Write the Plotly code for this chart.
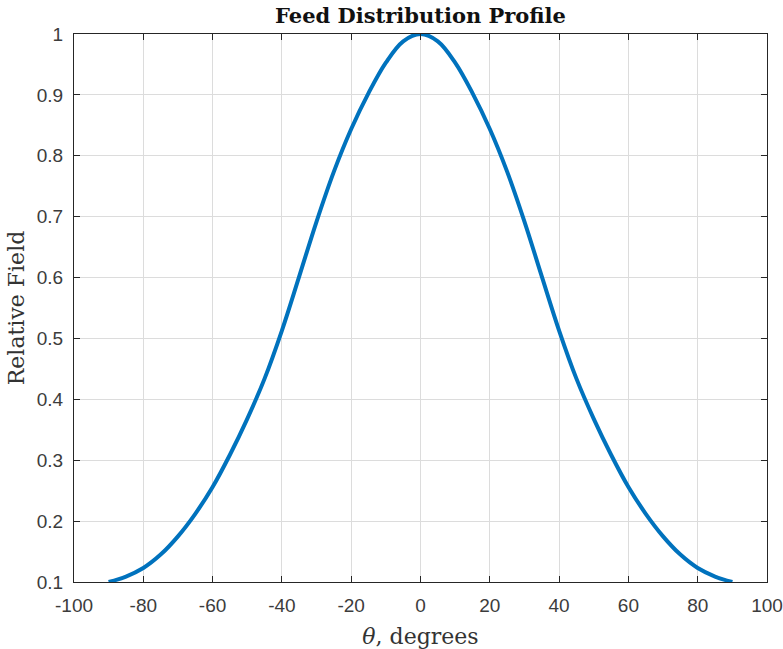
import plotly.graph_objects as go

# Feed pattern samples (angle in degrees, relative field amplitude)
theta_deg = [-90, -85, -80, -75, -70, -65, -60, -55, -50, -45, -40, -35, -30, -25, -20, -15, -10, -5,
             0, 5, 10, 15, 20, 25, 30, 35, 40, 45, 50, 55, 60, 65, 70, 75, 80, 85, 90]
relative_field = [0.100, 0.109, 0.123, 0.145, 0.175, 0.212, 0.256, 0.309, 0.368, 0.434, 0.513, 0.602,
                  0.692, 0.774, 0.844, 0.903, 0.953, 0.988,
                  1.000,
                  0.988, 0.953, 0.903, 0.844, 0.774, 0.692, 0.602, 0.513, 0.434, 0.368, 0.309, 0.256,
                  0.212, 0.175, 0.145, 0.123, 0.109, 0.100]

x_tick_vals = [-100, -80, -60, -40, -20, 0, 20, 40, 60, 80, 100]
x_tick_text = ["-100", "-80", "-60", "-40", "-20", "0", "20", "40", "60", "80", "100"]
y_tick_vals = [0.1, 0.2, 0.3, 0.4, 0.5, 0.6, 0.7, 0.8, 0.9, 1.0]
y_tick_text = ["0.1", "0.2", "0.3", "0.4", "0.5", "0.6", "0.7", "0.8", "0.9", "1"]

AXIS_COLOR = "#262626"
GRID_COLOR = "#dcdcdc"
TICK_FONT = dict(family="Liberation Sans, Arial, sans-serif", size=19, color="#3c3c3c")
SERIF = "DejaVu Serif, serif"

fig = go.Figure()
fig.add_trace(go.Scatter(
    x=theta_deg, y=relative_field, mode="lines",
    line=dict(color="#0072BD", width=4, shape="spline", smoothing=1.0),
    showlegend=False,
))

common_axis = dict(
    showline=True, linecolor=AXIS_COLOR, linewidth=1, mirror="ticks",
    ticks="inside", ticklen=6, tickwidth=1, tickcolor=AXIS_COLOR,
    showgrid=True, gridcolor=GRID_COLOR, gridwidth=1,
    zeroline=False, tickfont=TICK_FONT, automargin=False,
)

fig.update_xaxes(
    range=[-100, 100], tickvals=x_tick_vals, ticktext=x_tick_text,
    title=dict(text="<i>θ</i>, degrees", font=dict(family=SERIF, size=22, color="#333333"), standoff=18),
    ticklabelstandoff=6,
    **common_axis,
)
fig.update_yaxes(
    range=[0.1, 1.0], tickvals=y_tick_vals, ticktext=y_tick_text,
    title=dict(text="Relative Field", font=dict(family=SERIF, size=22, color="#333333"), standoff=6),
    ticklabelstandoff=6,
    **common_axis,
)

fig.update_layout(
    width=783, height=649,
    margin=dict(l=74, r=16, t=34, b=67),
    paper_bgcolor="white", plot_bgcolor="white",
    title=dict(
        text="<b>Feed Distribution Profile</b>",
        font=dict(family=SERIF, size=21, color="#111111"),
        x=0.5, xref="paper", xanchor="center",
        y=1, yref="paper", yanchor="bottom", pad=dict(b=11),
    ),
)

fig.write_html("out.html")
